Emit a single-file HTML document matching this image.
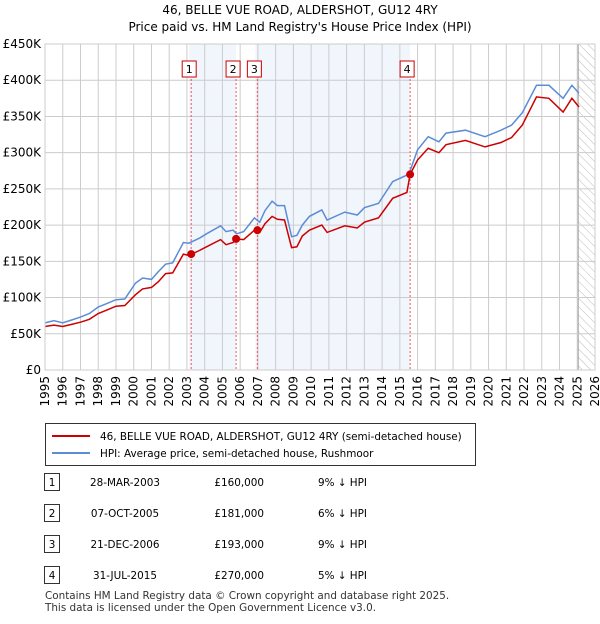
<!DOCTYPE html>
<html><head><meta charset="utf-8"><style>
body{margin:0;background:#fff;font-family:"DejaVu Sans",sans-serif;}
svg text{font-family:"DejaVu Sans",sans-serif;}
</style></head><body>
<svg width="600" height="620">
<g id="root"></g>
</svg>
<script>
const dates=[1995.0,1995.5,1996.0,1996.5,1997.0,1997.5,1998.0,1998.5,1999.0,1999.5,2000.1,2000.5,2001.0,2001.4,2001.8,2002.2,2002.8,2003.1,2003.7,2004.1,2004.9,2005.2,2005.6,2005.8,2006.2,2006.8,2007.1,2007.4,2007.8,2008.1,2008.5,2008.9,2009.2,2009.5,2009.9,2010.6,2010.9,2011.9,2012.6,2013.0,2013.8,2014.6,2015.4,2015.58,2016.0,2016.6,2017.2,2017.6,2018.7,2019.8,2020.7,2021.3,2021.9,2022.7,2023.4,2024.2,2024.7,2025.1];
const hpiValues=[65,68,65,69,73,78,87,92,97,98,120,127,125,136,146,148,176,175,182,188,199,191,193,188,191,210,204,220,233,227,227,184,186,200,212,221,207,218,214,224,230,260,269,275,304,322,315,327,331,322,331,338,355,393,393,375,393,382];
const priceValues=[60,62,60,63,66,70,78,83,88,89,104,112,114,122,133,134,160,158,165,170,180,173,176,181,180,193,190,202,212,208,207,169,170,185,193,200,190,199,196,204,210,237,245,270,290,306,300,311,317,308,314,321,338,377,375,356,375,363];
const saleDates=[2003.24,2005.77,2006.97,2015.58];
const salePrices=[160,181,193,270];
const saleLabels=["1","2","3","4"];
const yTicks=[0,50,100,150,200,250,300,350,400,450];
const yTickLabels=["£0","£50K","£100K","£150K","£200K","£250K","£300K","£350K","£400K","£450K"];
const xYears=[1995,1996,1997,1998,1999,2000,2001,2002,2003,2004,2005,2006,2007,2008,2009,2010,2011,2012,2013,2014,2015,2016,2017,2018,2019,2020,2021,2022,2023,2024,2025,2026];

const X0=45,X1=595,Y0=370,Y1=44;
const xs=y=>X0+(y-1995)/(2026-1995)*(X1-X0);
const ys=v=>Y0-v/450*(Y0-Y1);
const NS="http://www.w3.org/2000/svg";
const root=document.getElementById('root');
function mk(t,a,p){const e=document.createElementNS(NS,t);for(const k in a)e.setAttribute(k,a[k]);(p||root).appendChild(e);return e;}

let t=mk('text',{x:300,y:14,'text-anchor':'middle','font-size':12});t.textContent="46, BELLE VUE ROAD, ALDERSHOT, GU12 4RY";

t=mk('text',{x:300,y:31,'text-anchor':'middle','font-size':12});t.textContent="Price paid vs. HM Land Registry's House Price Index (HPI)";


for(let i=0;i<saleDates.length;i+=2){
 const a=xs(saleDates[i])-2,b=xs(saleDates[i+1]||2025.1);
 const r=mk('rect',{x:a,y:Y1,width:b-a,height:Y0-Y1,fill:'#eef2fb',opacity:0.8});
 
}
const defs=mk('defs',{});
const pat=mk('pattern',{id:'h',width:6,height:6,patternUnits:'userSpaceOnUse',patternTransform:'rotate(-45)'},defs);
mk('line',{x1:0,y1:0,x2:0,y2:6,stroke:'#bbb','stroke-width':1},pat);
const hx=xs(2025.05);
let hr=mk('rect',{x:hx,y:Y1,width:X1-hx,height:Y0-Y1,fill:'url(#h)'});

mk('line',{x1:hx,y1:Y1,x2:hx,y2:Y0,stroke:'#999','stroke-width':1});

yTicks.forEach((v,i)=>{
 const l=mk('line',{x1:X0,x2:X1,y1:ys(v),y2:ys(v),stroke:'#ccc','stroke-width':1});
 
 const tx=mk('text',{x:X0-4,y:ys(v)+4,'text-anchor':'end','font-size':12});tx.textContent=yTickLabels[i];
 
});
xYears.forEach(y=>{
 const l=mk('line',{x1:xs(y),x2:xs(y),y1:Y1,y2:Y0,stroke:'#ccc','stroke-width':1});
 
 const tx=mk('text',{x:0,y:0,'text-anchor':'end','font-size':12,transform:`translate(${xs(y)+4},${Y0+6}) rotate(-90)`});tx.textContent=y;
 
});

saleDates.forEach((d,i)=>{
 const x=xs(d);
 const l=mk('line',{x1:x,x2:x,y1:Y1+35,y2:Y0,stroke:'#e55','stroke-width':1,'stroke-dasharray':'2,2'});
 
 const off=[-9,-10,-10,-10][i];
 const b=mk('rect',{x:x+off,y:61,width:14,height:16,fill:'#fff',stroke:'#c00'});
 
 const tx=mk('text',{x:x+off+7,y:73,'text-anchor':'middle','font-size':11});tx.textContent=saleLabels[i];
 
});

function pathOf(v){return dates.map((d,i)=>(i?'L':'M')+xs(d).toFixed(1)+','+ys(v[i]).toFixed(1)).join('');}
let p=mk('path',{d:pathOf(hpiValues),fill:'none',stroke:'#5b8dd6','stroke-width':1.5});

p=mk('path',{d:pathOf(priceValues),fill:'none',stroke:'#cc0000','stroke-width':1.5});

saleDates.forEach((d,i)=>{
 const c=mk('circle',{cx:xs(d),cy:ys(salePrices[i]),r:4,fill:'#cc0000'});
 
});
mk('rect',{x:X0,y:Y1,width:X1-X0,height:Y0-Y1,fill:'none',stroke:'#ccc'});

const lg=mk('g',{});
mk('rect',{x:45.5,y:423.5,width:430,height:42,fill:'#fff',stroke:'#333'},lg);
mk('line',{x1:52,x2:90,y1:436,y2:436,stroke:'#cc0000','stroke-width':2},lg);
t=mk('text',{x:100,y:440,'font-size':10.4},lg);t.textContent="46, BELLE VUE ROAD, ALDERSHOT, GU12 4RY (semi-detached house)";

mk('line',{x1:52,x2:90,y1:453,y2:453,stroke:'#5b8dd6','stroke-width':2},lg);
t=mk('text',{x:100,y:457,'font-size':10.4},lg);t.textContent="HPI: Average price, semi-detached house, Rushmoor";


const rows=[["1","28-MAR-2003","£160,000","9% ↓ HPI"],["2","07-OCT-2005","£181,000","6% ↓ HPI"],["3","21-DEC-2006","£193,000","9% ↓ HPI"],["4","31-JUL-2015","£270,000","5% ↓ HPI"]];
rows.forEach((r,i)=>{
 const y=483+i*31;
 const g=mk('g',{});
 mk('rect',{x:44.5,y:y-9.5,width:15,height:17,fill:'#fff',stroke:'#333'},g);
 let a=mk('text',{x:52,y:y+3,'text-anchor':'middle','font-size':10.4},g);a.textContent=r[0];
 a=mk('text',{x:125,y:y+3,'text-anchor':'middle','font-size':10.4},g);a.textContent=r[1];
 a=mk('text',{x:264,y:y+3,'text-anchor':'end','font-size':10.4},g);a.textContent=r[2];
 a=mk('text',{x:318,y:y+3,'font-size':10.4},g);a.textContent=r[3];
});
t=mk('text',{x:45,y:599,'font-size':10.4,fill:'#333'});t.textContent="Contains HM Land Registry data © Crown copyright and database right 2025.";

t=mk('text',{x:45,y:611,'font-size':10.4,fill:'#333'});t.textContent="This data is licensed under the Open Government Licence v3.0.";

</script>
</body></html>
